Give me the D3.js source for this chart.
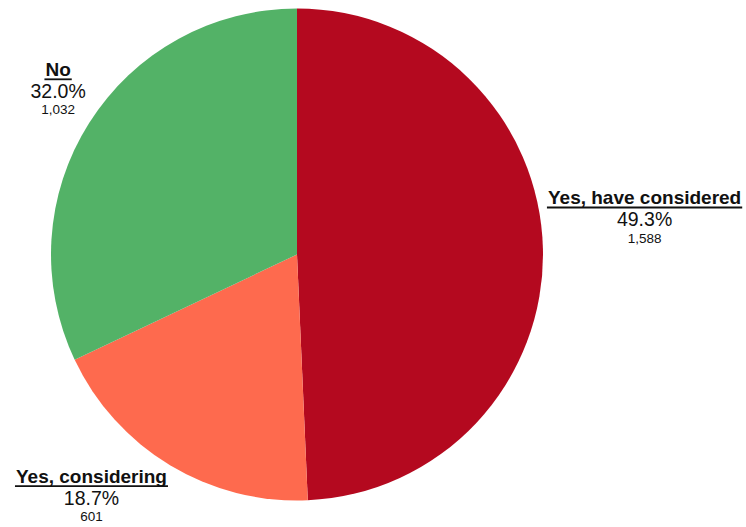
<!DOCTYPE html>
<html>
<head>
<meta charset="utf-8">
<script src="https://cdn.jsdelivr.net/npm/d3@7"></script>
<style>
  html, body { margin: 0; padding: 0; background: #fff; }
  svg { display: block; }
  text { font-family: "Liberation Sans", Arial, Helvetica, sans-serif; fill: #111; }
</style>
</head>
<body>
<svg id="chart" width="746" height="527"></svg>
<script>
// Survey answers, counts per answer and slice colours
const categories = ["Yes, have considered", "Yes, considering", "No"];
const counts = [1588, 601, 1032];
const colors = ["#b4091f", "#fe6a4e", "#53b267"];

const width = 746, height = 527;
const cx = 297, cy = 254.5, radius = 246;

const svg = d3.select("#chart");
const total = d3.sum(counts);
const data = categories.map((name, i) => ({ name, count: counts[i], color: colors[i] }));

const pie = d3.pie().value(d => d.count).sort(null);
const arcs = pie(data);
const arc = d3.arc().innerRadius(0).outerRadius(radius);
const labelArc = d3.arc().innerRadius(radius + 4).outerRadius(radius + 4);

const g = svg.append("g").attr("transform", `translate(${cx},${cy})`);

g.selectAll("path.slice")
  .data(arcs)
  .join("path")
  .attr("class", "slice")
  .attr("d", arc)
  .attr("fill", d => d.data.color);

const fmtPct = d3.format(".1%");
const fmtCount = d3.format(",");

// Labels: a three-line block tucked against the outer point of each slice
arcs.forEach(a => {
  const [px, py] = labelArc.centroid(a);
  const lg = g.append("g");

  const name = lg.append("text")
    .attr("text-anchor", "middle")
    .attr("y", 14)
    .style("font-size", "19px")
    .style("font-weight", "bold")
    .text(a.data.name);

  lg.append("text")
    .attr("text-anchor", "middle")
    .attr("y", 36)
    .style("font-size", "19.5px")
    .text(fmtPct(a.data.count / total));

  lg.append("text")
    .attr("text-anchor", "middle")
    .attr("y", 52.5)
    .style("font-size", "13.5px")
    .text(fmtCount(a.data.count));

  const nw = name.node().getComputedTextLength();
  lg.append("line")
    .attr("x1", -nw / 2 - 1).attr("x2", nw / 2 + 1)
    .attr("y1", 17.5).attr("y2", 17.5)
    .attr("stroke", "#111")
    .attr("stroke-width", 1.8);

  const bb = lg.node().getBBox();
  const bw = bb.width, top = 0, bottom = 59;
  const ox = px >= 0 ? px + bw / 2 : px - bw / 2;
  const oy = py < 0 ? py - bottom : py - top;
  lg.attr("transform", `translate(${ox},${oy})`);
});
</script>
</body>
</html>
